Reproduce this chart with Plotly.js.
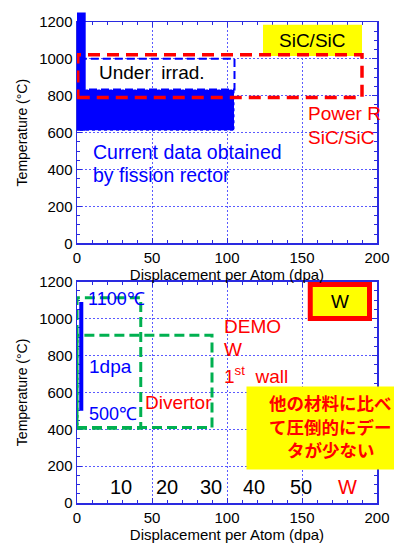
<!DOCTYPE html>
<html>
<head>
<meta charset="utf-8">
<script src="https://cdn.plot.ly/plotly-3.0.1.min.js"></script>
<style>html,body{margin:0;padding:0;background:#fff;}#chart{width:394px;height:546px;}</style>
</head>
<body>
<div id="chart"></div>
<script>
// ---- axes ----
const xRange = [0, 200];
const yRange = [0, 1200];
const xTickVals = [0, 50, 100, 150, 200];
const yTickVals = [0, 200, 400, 600, 800, 1000, 1200];
const xTitle = 'Displacement per Atom (dpa)';
const yTitle = 'Temperature (°C)';

// ---- top chart: SiC/SiC ----
const fissionBarX = [0, 5.8];      const fissionBarY = [610, 1252];
const fissionFillX = [0, 105];     const fissionFillY = [610, 834];
const underIrradX = [0, 105];      const underIrradY = [834, 1001];
const powerRX = [0.5, 190];        const powerRY = [790, 1022];
const sicLabelBoxX = [124, 190];   const sicLabelBoxY = [1015, 1185];

// ---- bottom chart: W ----
const wBarX = [1.5, 4.2];          const wBarY = [500, 1090];
const divertor1X = [0, 42.5];      const divertor1Y = [406, 1113];
const divertor2X = [0, 90];        const divertor2Y = [409, 910];
const wLabelBoxX = [155.5, 195];   const wLabelBoxY = [1000, 1185];

// W dpa comparison row (Fe dpa values -> W)
const wDpaLabels = ['10', '20', '30', '40', '50'];
const wDpaX = [29.3, 60, 89.3, 118, 149.3];
const wDpaY = [86, 86, 86, 86, 86];

// Japanese note
const noteLines = ['他の材料に比べ', 'て圧倒的にデー', 'タが少ない'];
const noteLineY = [543, 415, 290];
const noteX = 169.3;

const blue = '#0000ff', red = '#ff0000', green = '#00b050', yellow = '#ffff00';
const gridCol = '#5a5aff', axCol = '#2a2ae0';
const FONT = 'Liberation Sans, Arial, sans-serif';

function xax(anchor) {
  return {
    domain: [0, 1], anchor: anchor, range: xRange, tickvals: xTickVals,
    showgrid: true, gridcolor: gridCol, gridwidth: 1, griddash: '2px,2px',
    zeroline: false, showline: true, linecolor: axCol, linewidth: 1.5, mirror: 'ticks',
    ticks: 'inside', ticklen: 5, tickcolor: axCol,
    minor: {dtick: 10, ticks: 'inside', ticklen: 3, tickcolor: axCol, showgrid: false},
    tickfont: {family: FONT, size: 15, color: '#000'},
    title: {text: xTitle, font: {family: FONT, size: 15, color: '#000'}, standoff: 4},
    fixedrange: true
  };
}
function yax(anchor, domain) {
  return {
    domain: domain, anchor: anchor, range: yRange, tickvals: yTickVals,
    showgrid: true, gridcolor: gridCol, gridwidth: 1, griddash: '2px,2px',
    zeroline: false, showline: true, linecolor: axCol, linewidth: 1.5, mirror: 'ticks',
    ticks: 'inside', ticklen: 5, tickcolor: axCol,
    minor: {dtick: 50, ticks: 'inside', ticklen: 3, tickcolor: axCol, showgrid: false},
    tickfont: {family: FONT, size: 15, color: '#000'},
    title: {text: yTitle, font: {family: FONT, size: 14, color: '#000'}, standoff: 8},
    fixedrange: true
  };
}

function rect(xref, yref, X, Y, opts) {
  return Object.assign({type: 'rect', xref: xref, yref: yref, x0: X[0], x1: X[1], y0: Y[0], y1: Y[1]}, opts);
}
// fraction of y domain for a data value (lets the bar poke above the frame as in the reference)
function yFrac(v) { return (v - yRange[0]) / (yRange[1] - yRange[0]); }

const shapes = [
  // top
  rect('x', 'y', sicLabelBoxX, sicLabelBoxY, {fillcolor: yellow, line: {width: 0}}),
  rect('x', 'y', fissionFillX, fissionFillY, {fillcolor: blue, line: {color: '#ffffff', width: 1, dash: '3px,3px'}}),
  rect('x', 'y domain', fissionBarX, fissionBarY.map(yFrac), {fillcolor: blue, line: {width: 0}}),
  rect('x', 'y', underIrradX, underIrradY, {line: {color: blue, width: 2, dash: '8px,4px'}}),
  rect('x', 'y', powerRX, powerRY, {line: {color: red, width: 3.5, dash: '12px,7px'}}),
  // bottom
  rect('x2', 'y2', wBarX, wBarY, {fillcolor: blue, line: {width: 0}}),
  rect('x2', 'y2', divertor1X, divertor1Y, {line: {color: green, width: 3, dash: '10px,5px'}}),
  rect('x2', 'y2', divertor2X, divertor2Y, {line: {color: green, width: 3, dash: '10px,5px'}}),
  rect('x2', 'y2', wLabelBoxX, wLabelBoxY, {fillcolor: yellow, line: {color: red, width: 5}})
];

function ann(xref, yref, x, y, text, color, size, xanchor, extra) {
  return Object.assign({xref: xref, yref: yref, x: x, y: y, text: text, showarrow: false,
    xanchor: xanchor || 'left', yanchor: 'middle',
    font: {family: FONT, size: size, color: color}}, extra || {});
}

const annotations = [
  // top
  ann('x', 'y', 13, 927, 'Under&nbsp; irrad.', '#000', 19),
  ann('x', 'y', 157, 1100, 'SiC/SiC', '#000', 19, 'center'),
  ann('x', 'y', 152.5, 705, 'Power R', red, 19),
  ann('x', 'y', 152.5, 576, 'SiC/SiC', red, 19),
  ann('x', 'y', 9.3, 494, 'Current data obtained', blue, 19.5),
  ann('x', 'y', 9.3, 370, 'by fission rector', blue, 19.5),
  // bottom
  ann('x2', 'y2', 6.3, 1106, '1100℃', blue, 18),
  ann('x2', 'y2', 6.5, 738, '1dpa', blue, 19),
  ann('x2', 'y2', 6.5, 484, '500℃', blue, 18),
  ann('x2', 'y2', 43.8, 543, 'Divertor', red, 19),
  ann('x2', 'y2', 96.5, 956, 'DEMO', red, 19),
  ann('x2', 'y2', 96.5, 830, 'W', red, 19),
  ann('x2', 'y2', 96.5, 695, '1<sup>st</sup>&nbsp; wall', red, 19),
  ann('x2', 'y2', 175.3, 1092, 'W', '#000', 19, 'center'),
  ann('x2', 'y2', 180, 86, 'W', red, 20, 'center'),
  ann('x2', 'y2', 180, -161, 'Fe', red, 21, 'center'),
  // yellow note box (extends past the frame like the reference)
  {xref: 'x2', yref: 'y2', x: 112.7, y: 636, xanchor: 'left', yanchor: 'top', showarrow: false,
   text: '&nbsp;', bgcolor: yellow, borderpad: 1, width: 168, height: 80,
   font: {family: FONT, size: 10, color: yellow}}
];
noteLines.forEach((t, i) => annotations.push(ann('x2', 'y2', noteX, noteLineY[i], t, red, 17.5, 'center',
  {borderpad: 0, font: {family: 'Noto Sans CJK JP, sans-serif', size: 17.5, color: red, weight: 'bold'}})));
wDpaLabels.forEach((t, i) => annotations.push(ann('x2', 'y2', wDpaX[i], wDpaY[i], t, '#000', 20, 'center')));

const traces = [
  {x: xRange, y: yRange, xaxis: 'x', yaxis: 'y', mode: 'none', type: 'scatter', hoverinfo: 'skip', showlegend: false},
  {x: xRange, y: yRange, xaxis: 'x2', yaxis: 'y2', mode: 'none', type: 'scatter', hoverinfo: 'skip', showlegend: false}
];

const layout = {
  width: 394, height: 546,
  margin: {l: 77, r: 17, t: 22, b: 43},
  paper_bgcolor: '#ffffff', plot_bgcolor: '#ffffff',
  showlegend: false,
  xaxis: xax('y'), yaxis: yax('x', [0.540, 1]),
  xaxis2: xax('y2'), yaxis2: yax('x2', [0, 0.460]),
  shapes: shapes, annotations: annotations
};

Plotly.newPlot('chart', traces, layout, {displayModeBar: false, staticPlot: true});
</script>
</body>
</html>
